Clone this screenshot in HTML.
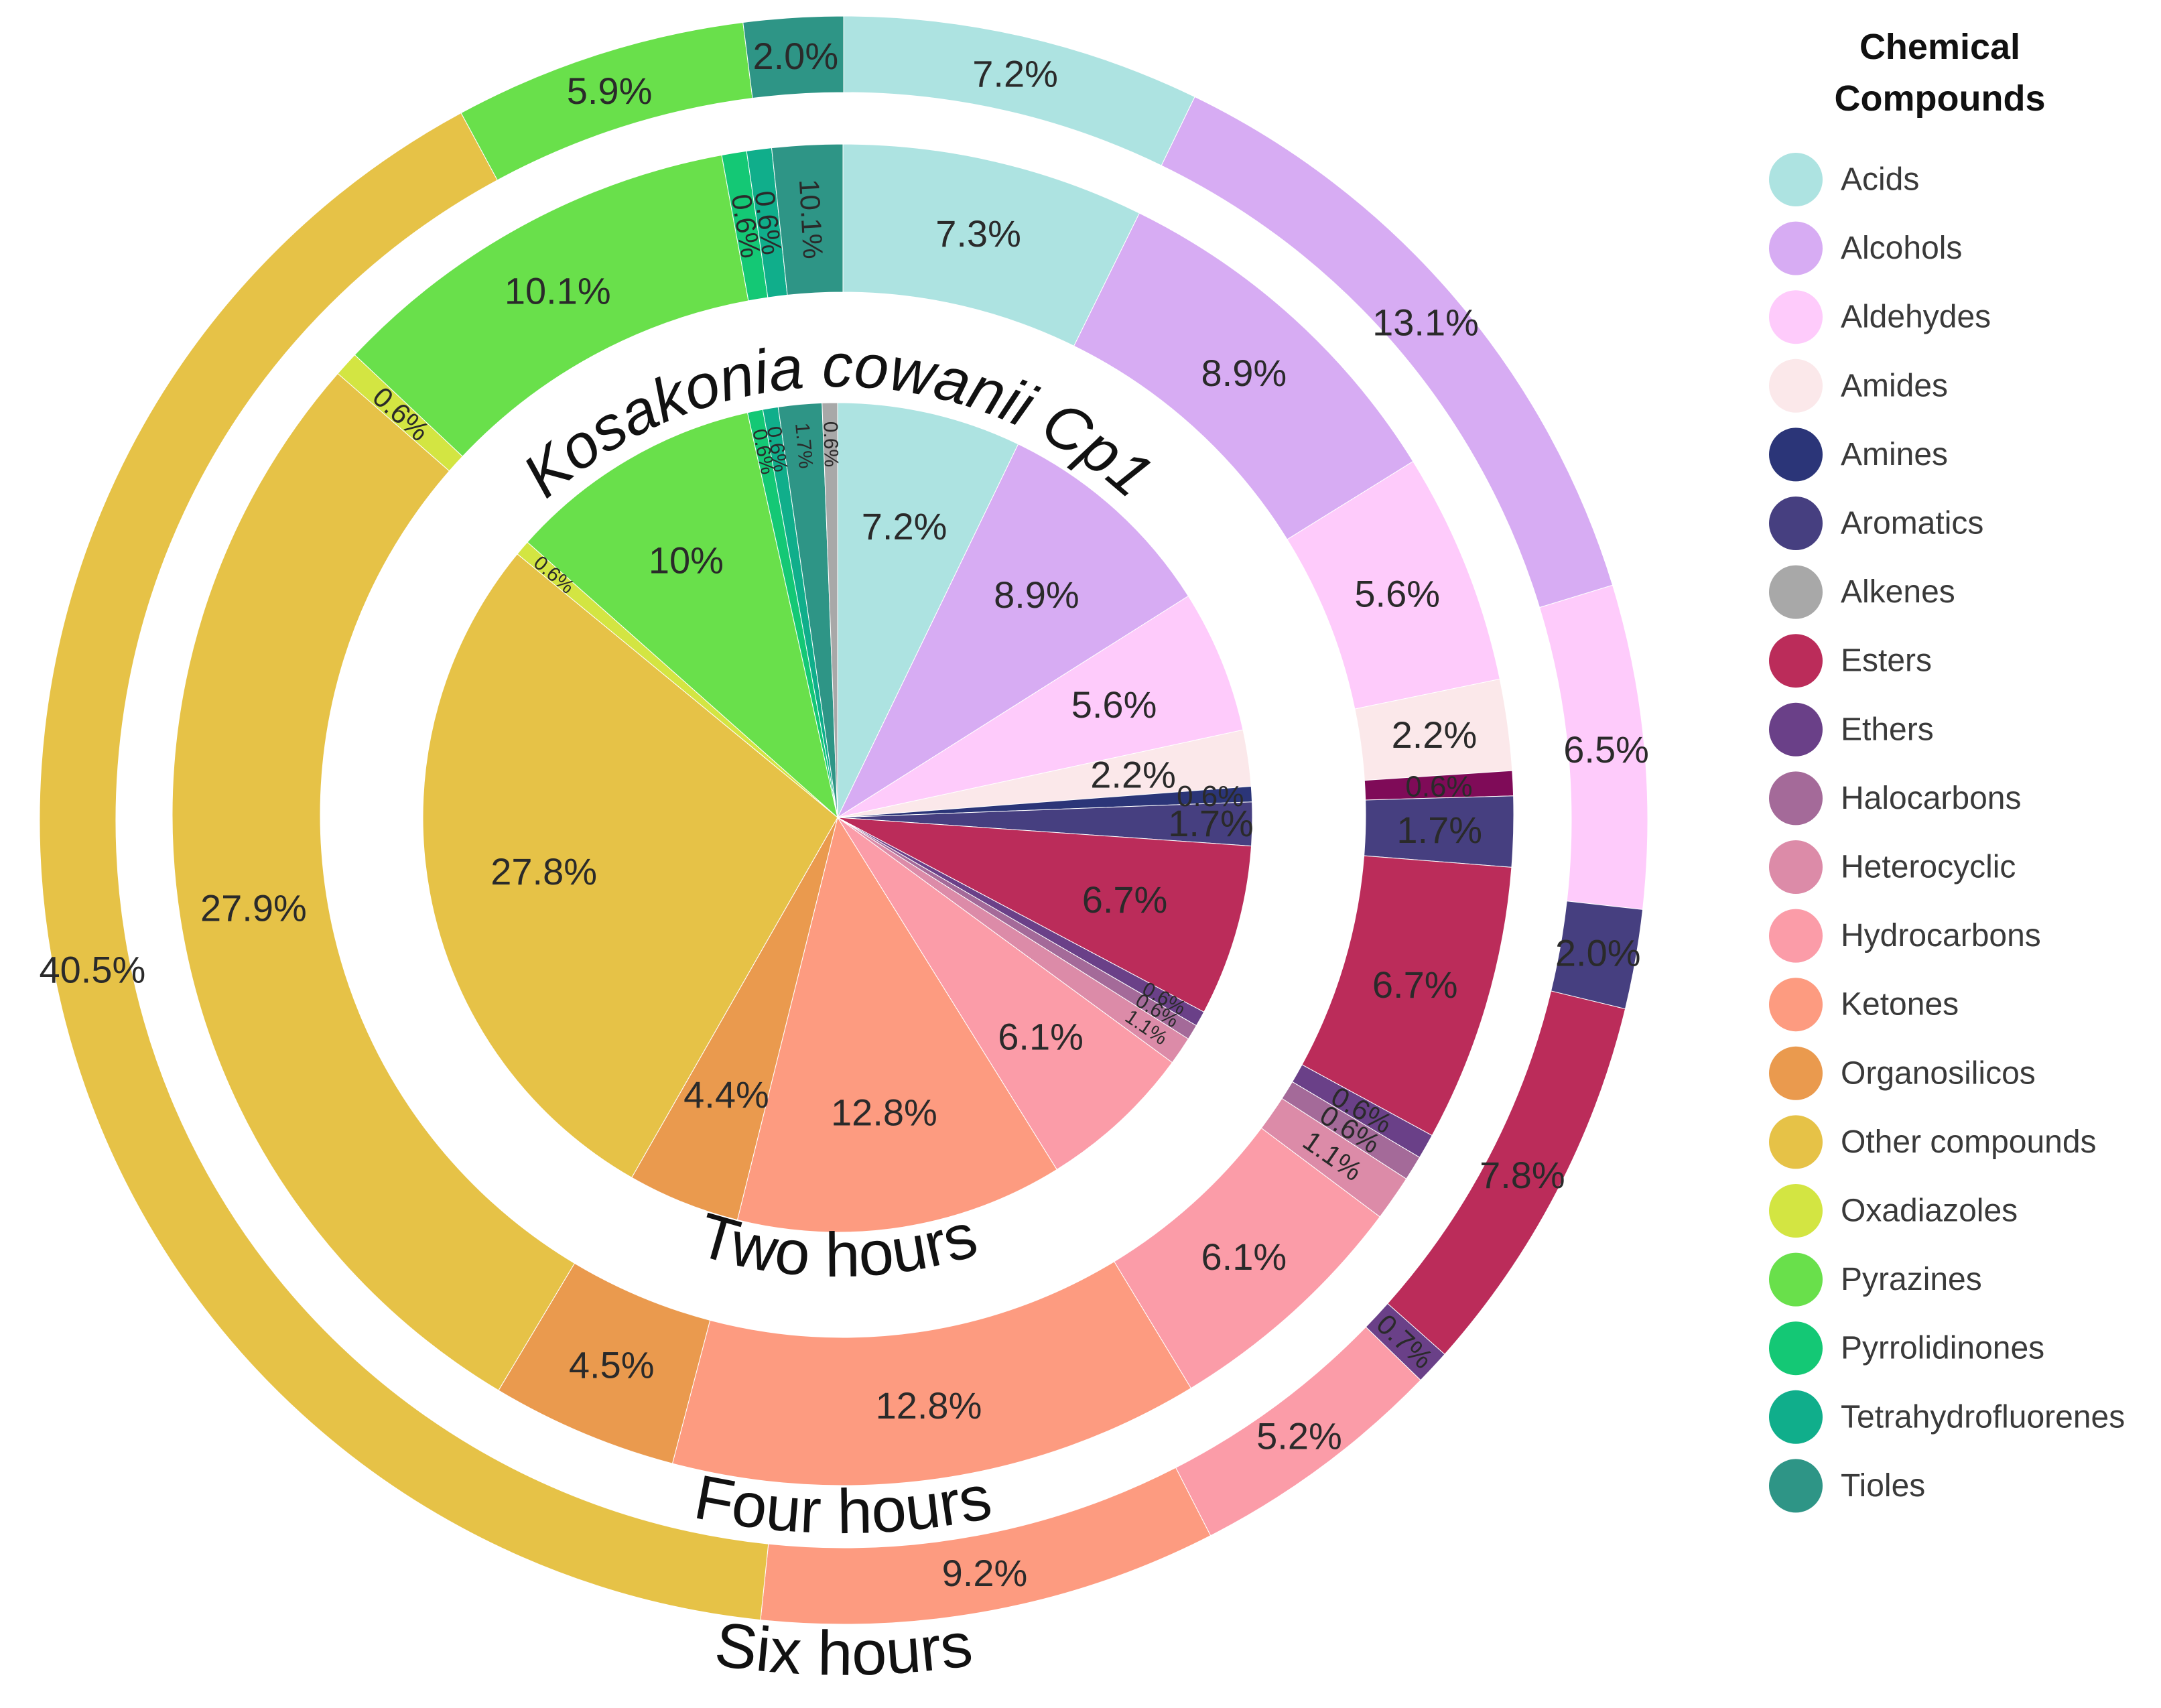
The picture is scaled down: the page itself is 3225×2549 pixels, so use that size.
<!DOCTYPE html>
<html><head><meta charset="utf-8"><style>
html,body{margin:0;padding:0;background:#fff;}
svg{display:block;font-family:"Liberation Sans",sans-serif;}
</style></head><body>
<svg id="chart" width="3225" height="2549" viewBox="0 0 3225 2549" xmlns="http://www.w3.org/2000/svg">
<g id="rings"></g>
<g id="ringlabels">
<defs>
<path id="arcTop" d="M 607 1220 A 643 643 0 0 1 1893 1220"/>
<path id="arc2" d="M 565 1220 A 685 685 0 0 0 1935 1220"/>
<path id="arc4" d="M 186 1216 A 1072 1072 0 0 0 2330 1216"/>
<path id="arc6" d="M -17 1224 A 1276 1276 0 0 0 2535 1224"/>
</defs>
<text font-size="92" font-style="italic" fill="#111"><textPath href="#arcTop" startOffset="50%" text-anchor="middle">Kosakonia cowanii Cp1</textPath></text>
<text font-size="94" fill="#111"><textPath href="#arc2" startOffset="50%" text-anchor="middle">Two hours</textPath></text>
<text font-size="94" fill="#111"><textPath href="#arc4" startOffset="50%" text-anchor="middle">Four hours</textPath></text>
<text font-size="94" fill="#111"><textPath href="#arc6" startOffset="50%" text-anchor="middle">Six hours</textPath></text>
</g>
<g id="legend">
<text x="2895" y="88" font-size="54" font-weight="bold" text-anchor="middle" fill="#111">Chemical</text>
<text x="2895" y="165" font-size="54" font-weight="bold" text-anchor="middle" fill="#111">Compounds</text>
</g>
</svg>
<script>
const categories = ["Acids","Alcohols","Aldehydes","Amides","Amines","Aromatics","Esters","Ethers","Halocarbons","Heterocyclic","Hydrocarbons","Ketones","Organosilicos","Other compounds","Oxadiazoles","Pyrazines","Pyrrolidinones","Tetrahydrofluorenes","Tioles","Alkenes"];
const colors = ["#ade3e1","#d7acf3","#fecbfb","#fbe8ea","#2b3578","#463f80","#bb2c5a","#6a4088","#a46a99","#dc8ba8","#fb9ca8","#fd9b80","#ea9a4e","#e6c247","#d3e542","#69e04b","#14c875","#10ae8b","#2e9586","#a8a8a8"];
const values2h = [7.2,8.9,5.6,2.2,0.6,1.7,6.7,0.6,0.6,1.1,6.1,12.8,4.4,27.8,0.6,10,0.6,0.6,1.7,0.6];
const labels2h = ["7.2%","8.9%","5.6%","2.2%","0.6%","1.7%","6.7%","0.6%","0.6%","1.1%","6.1%","12.8%","4.4%","27.8%","0.6%","10%","0.6%","0.6%","1.7%","0.6%"];
const values4h = [7.3,8.9,5.6,2.2,0.6,1.7,6.7,0.6,0.6,1.1,6.1,12.8,4.5,27.9,0.6,10.1,0.6,0.6,1.7,0];
const labels4h = ["7.3%","8.9%","5.6%","2.2%","0.6%","1.7%","6.7%","0.6%","0.6%","1.1%","6.1%","12.8%","4.5%","27.9%","0.6%","10.1%","0.6%","0.6%","10.1%",""];
const values6h = [7.2,13.1,6.5,0,0,2.0,7.8,0.7,0,0,5.2,9.2,0,40.5,0,5.9,0,0,2.0,0];
const labels6h = ["7.2%","13.1%","6.5%","","","2.0%","7.8%","0.7%","","","5.2%","9.2%","","40.5%","","5.9%","","","2.0%",""];
const legendOrder = ["Acids","Alcohols","Aldehydes","Amides","Amines","Aromatics","Alkenes","Esters","Ethers","Halocarbons","Heterocyclic","Hydrocarbons","Ketones","Organosilicos","Other compounds","Oxadiazoles","Pyrazines","Pyrrolidinones","Tetrahydrofluorenes","Tioles"];

const NS = "http://www.w3.org/2000/svg";
const ringsG = document.getElementById('rings');
const rings = [
  {key:"two-hours", vals:values2h, labs:labels2h, cx:1250, cy:1220, ri:0, ro:619, lr:0.72, small:30, over:{}},
  {key:"four-hours", vals:values4h, labs:labels4h, cx:1258, cy:1216, ri:780, ro:1001, lr:null, small:42, over:{4:"#7f0b58"}},
  {key:"six-hours", vals:values6h, labs:labels6h, cx:1259, cy:1224, ri:1086, ro:1200, lr:null, small:42, over:{}}
];
function pt(cx,cy,r,a){return [cx+r*Math.sin(a), cy-r*Math.cos(a)];}
function slicePath(cx,cy,ri,ro,a0,a1){
  const large=(a1-a0)>Math.PI?1:0;
  const p0=pt(cx,cy,ro,a0), p1=pt(cx,cy,ro,a1);
  if(ri<=0){
    return `M${cx},${cy} L${p0[0]},${p0[1]} A${ro},${ro} 0 ${large} 1 ${p1[0]},${p1[1]} Z`;
  }
  const q1=pt(cx,cy,ri,a1), q0=pt(cx,cy,ri,a0);
  return `M${p0[0]},${p0[1]} A${ro},${ro} 0 ${large} 1 ${p1[0]},${p1[1]} L${q1[0]},${q1[1]} A${ri},${ri} 0 ${large} 0 ${q0[0]},${q0[1]} Z`;
}
rings.forEach(ring=>{
  const g=document.createElementNS(NS,'g');
  
  
  ringsG.appendChild(g);
  const total=ring.vals.reduce((s,v)=>s+v,0);
  let acc=0;
  const labelsG=[];
  ring.vals.forEach((v,i)=>{
    if(!v) return;
    const a0=acc/total*2*Math.PI; acc+=v; const a1=acc/total*2*Math.PI;
    const p=document.createElementNS(NS,'path');
    p.setAttribute('d', slicePath(ring.cx,ring.cy,ring.ri,ring.ro,a0,a1));
    p.setAttribute('fill', ring.over[i]||colors[i]);
    p.setAttribute('stroke', '#fff');
    p.setAttribute('stroke-width', '1');
    
    
    g.appendChild(p);
    const lab=ring.labs[i];
    if(!lab) return;
    const am=(a0+a1)/2;
    let rot=am*180/Math.PI-90;
    while(rot>90) rot-=180;
    while(rot<-90) rot+=180;
    const isSmall=v<1.8 && Math.abs(rot)>15;
    let r;
    if(ring.ri===0) r=ring.ro*(v<1.8?0.9:ring.lr);
    else r=(ring.ri+ring.ro)/2;
    const c=pt(ring.cx,ring.cy,r,am);
    const t=document.createElementNS(NS,'text');
    
    
    const fs=isSmall?ring.small:(v<1.5?44:56);
    t.setAttribute('font-size', fs);
    t.setAttribute('fill', '#2a2a2a');
    t.setAttribute('text-anchor', 'middle');
    t.setAttribute('dominant-baseline', 'central');
    t.setAttribute('x', c[0]);
    t.setAttribute('y', c[1]);
    if(isSmall){
      t.setAttribute('transform', `rotate(${rot} ${c[0]} ${c[1]})`);
    }
    t.textContent=lab;
    labelsG.push(t);
  });
  labelsG.forEach(t=>g.appendChild(t));
});

const legend=document.getElementById('legend');
legendOrder.forEach((name,k)=>{
  const i=categories.indexOf(name);
  const y=268+k*102.6;
  const e=document.createElementNS(NS,'g');
  
  
  const c=document.createElementNS(NS,'circle');
  c.setAttribute('cx', 2680); c.setAttribute('cy', y); c.setAttribute('r', 40);
  c.setAttribute('fill', colors[i]);
  
  
  const t=document.createElementNS(NS,'text');
  t.setAttribute('x', 2747); t.setAttribute('y', y);
  t.setAttribute('font-size', 48); t.setAttribute('fill', '#3a3a3a');
  t.setAttribute('dominant-baseline', 'central');
  
  
  t.textContent=name;
  e.appendChild(c); e.appendChild(t); legend.appendChild(e);
});
</script>
</body></html>
